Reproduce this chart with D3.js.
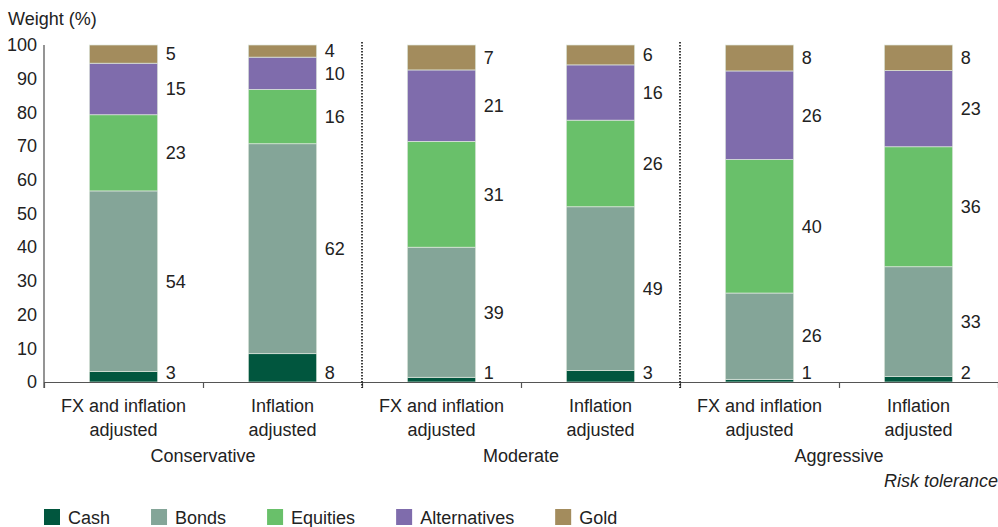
<!DOCTYPE html>
<html>
<head>
<meta charset="utf-8">
<script src="https://cdn.jsdelivr.net/npm/d3@7"></script>
<style>
  html, body { margin: 0; padding: 0; background: #fff; }
  svg { display: block; font-family: "Liberation Sans", Arial, sans-serif; }
</style>
</head>
<body>
<svg id="chart" width="998" height="527"></svg>
<script>
// ---- data ----
const groups = ["Conservative", "Moderate", "Aggressive"];
const barNames = [
  ["FX and inflation", "adjusted"],
  ["Inflation", "adjusted"]
];
const seriesNames = ["Cash", "Bonds", "Equities", "Alternatives", "Gold"];
const seriesColors = ["#01563e", "#84a598", "#69c06a", "#7f6cac", "#a38c5d"];
// values per bar (bottom to top): Cash, Bonds, Equities, Alternatives, Gold
const cash         = [3.1, 8.4, 1.4, 3.4, 0.8, 1.6];
const bonds        = [53.6, 62.3, 38.6, 48.6, 25.6, 32.6];
const equities     = [22.6, 16.1, 31.4, 25.7, 39.6, 35.6];
const alternatives = [15.3, 9.6, 21.2, 16.4, 26.3, 22.6];
const gold         = [5.4, 3.6, 7.4, 5.9, 7.7, 7.6];
const yTicks = [0, 10, 20, 30, 40, 50, 60, 70, 80, 90, 100];
const yTitle = "Weight (%)";
const xTitle = "Risk tolerance";

// ---- build table ----
const seriesValues = [cash, bonds, equities, alternatives, gold];
const bars = [];
groups.forEach((g, gi) => barNames.forEach((b, bi) => bars.push({ id: g + "|" + bi, group: g, lines: b })));
const table = bars.map((b, i) => {
  const row = { id: b.id };
  seriesNames.forEach((s, si) => row[s] = seriesValues[si][i]);
  return row;
});
const stacked = d3.stack().keys(seriesNames)(table);

// ---- layout ----
const svg = d3.select("#chart");
const plotL = 44, plotR = 998, plotT = 45, plotB = 382;
const y = d3.scaleLinear().domain([0, 100]).range([plotB, plotT]);
const x = d3.scaleBand().domain(bars.map(b => b.id)).range([plotL, plotR])
  .paddingInner(0.57).paddingOuter(0.285);
const xEdge = d3.scaleLinear().domain([0, bars.length]).range([plotL, plotR]);
const color = d3.scaleOrdinal().domain(seriesNames).range(seriesColors);
const textColor = "#222";
const fontSize = 18;

// y title
svg.append("text").attr("x", 8).attr("y", 25).attr("fill", textColor)
  .attr("font-size", fontSize).text(yTitle);

// y axis
const yAxis = svg.append("g").attr("transform", `translate(${plotL},0)`)
  .call(d3.axisLeft(y).tickValues(yTicks).tickSize(0).tickPadding(7));
yAxis.select(".domain").remove();
yAxis.selectAll("text").attr("font-size", fontSize).attr("fill", textColor)
  .attr("font-family", "Liberation Sans, Arial, sans-serif");
svg.append("line").attr("x1", plotL).attr("x2", plotL).attr("y1", y(100)).attr("y2", plotB + 6)
  .attr("stroke", "#7a7a7a").attr("stroke-width", 1.6);

// bars
const layer = svg.append("g").selectAll("g").data(stacked).join("g")
  .attr("fill", d => color(d.key));
layer.selectAll("rect").data(d => d).join("rect")
  .attr("x", d => x(d.data.id))
  .attr("width", x.bandwidth())
  .attr("y", d => y(d[1]))
  .attr("height", d => y(d[0]) - y(d[1]))
  .attr("stroke", "#dfe8df").attr("stroke-width", 0.7);

// value labels
bars.forEach((b, i) => {
  const positions = [];
  let prev = -Infinity;
  for (let si = seriesNames.length - 1; si >= 0; si--) {
    const seg = stacked[si][i];
    let cy;
    if (si === 0) cy = y(0) - 9;
    else cy = y((seg[0] + seg[1]) / 2);
    if (cy - prev < 18) cy = prev + 18;
    prev = cy;
    positions.push({ cy, v: seg[1] - seg[0] });
  }
  svg.append("g").selectAll("text").data(positions).join("text")
    .attr("x", x(b.id) + x.bandwidth() + 8)
    .attr("y", d => d.cy)
    .attr("dy", "0.35em")
    .attr("font-size", fontSize).attr("fill", textColor)
    .text(d => d3.format(".0f")(d.v));
});

// x axis (boundary ticks)
const xAxis = svg.append("g").attr("transform", `translate(0,${plotB})`)
  .call(d3.axisBottom(xEdge).tickValues(d3.range(0, bars.length + 1)).tickFormat("").tickSize(6).tickSizeOuter(0));
xAxis.select(".domain").attr("stroke", "#555").attr("stroke-width", 1.2);
xAxis.selectAll(".tick line").attr("stroke", "#555").attr("stroke-width", 1.2);

// dotted group separators
for (let gi = 1; gi < groups.length; gi++) {
  const xs = xEdge(gi * barNames.length);
  svg.append("line").attr("x1", xs).attr("x2", xs).attr("y1", plotT - 3).attr("y2", plotB + 6)
    .attr("stroke", "#111").attr("stroke-width", 1.6).attr("stroke-dasharray", "1.4,1.6");
}

// bar labels
bars.forEach(b => {
  const cx = x(b.id) + x.bandwidth() / 2;
  b.lines.forEach((ln, li) => {
    svg.append("text").attr("x", cx).attr("y", 412 + li * 24)
      .attr("text-anchor", "middle").attr("font-size", fontSize).attr("fill", textColor).text(ln);
  });
});
// group labels
groups.forEach((g, gi) => {
  const cx = (xEdge(gi * barNames.length) + xEdge((gi + 1) * barNames.length)) / 2;
  svg.append("text").attr("x", cx).attr("y", 462).attr("text-anchor", "middle")
    .attr("font-size", fontSize).attr("fill", textColor).text(g);
});
// risk tolerance
svg.append("text").attr("x", 998).attr("y", 487).attr("text-anchor", "end")
  .attr("font-style", "italic").attr("font-size", fontSize).attr("fill", textColor).text(xTitle);

// legend
const legend = svg.append("g");
let lx = 44;
seriesNames.forEach((s, si) => {
  legend.append("rect").attr("x", lx).attr("y", 509).attr("width", 16).attr("height", 16)
    .attr("fill", color(s));
  const t = legend.append("text").attr("x", lx + 24).attr("y", 524)
    .attr("font-size", fontSize).attr("fill", textColor).text(s);
  lx += 24 + t.node().getComputedTextLength() + 41;
});
</script>
</body>
</html>
